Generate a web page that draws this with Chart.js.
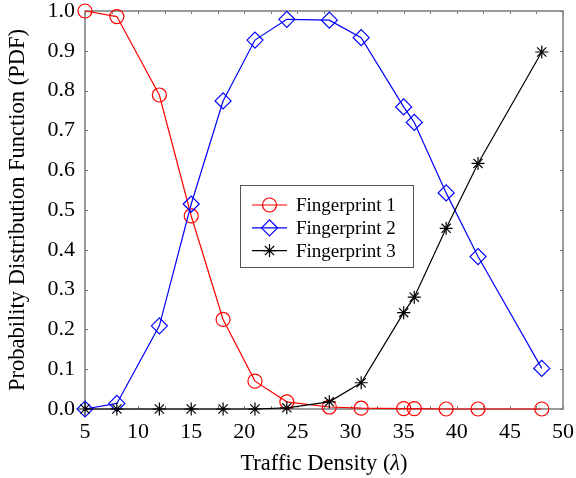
<!DOCTYPE html>
<html>
<head>
<meta charset="utf-8">
<script src="https://cdn.jsdelivr.net/npm/chart.js@4/dist/chart.umd.min.js"></script>
<style>
    html, body { margin: 0; padding: 0; background: #fff; }
    #wrap { width: 576px; height: 478px; }
</style>
</head>
<body>
<div id="wrap"><canvas id="myChart" width="576" height="478"></canvas></div>
<script>
// traffic density samples (x) and the PDF of each fingerprint
const density = [5, 8, 12, 15, 18, 21, 24, 28, 31, 35, 36, 39, 42, 48];
const fingerprint1 = [1.0, 0.986, 0.789, 0.485, 0.225, 0.070, 0.018, 0.005, 0.002, 0.001, 0.001, 0.0, 0.0, 0.0];
const fingerprint2 = [0.0, 0.014, 0.209, 0.515, 0.774, 0.927, 0.979, 0.977, 0.933, 0.759, 0.720, 0.543, 0.383, 0.102];
const fingerprint3 = [0.0, 0.0, 0.0, 0.0, 0.0, 0.0, 0.003, 0.018, 0.066, 0.242, 0.281, 0.454, 0.617, 0.897];

const seriesNames = ["Fingerprint 1", "Fingerprint 2", "Fingerprint 3"];
const xTicks = [5, 10, 15, 20, 25, 30, 35, 40, 45, 50];
const yTicks = [0, 0.1, 0.2, 0.3, 0.4, 0.5, 0.6, 0.7, 0.8, 0.9, 1.0];

const FONT = "'Liberation Serif', 'Times New Roman', serif";
const FRAME = "#7a7a7a";
const TITLE_SIZE = 22.5;

function toPoints(ys) {
    return density.map((x, i) => ({ x: x, y: ys[i] }));
}

const datasets = [
    { label: seriesNames[0], data: toPoints(fingerprint1), borderColor: "#ff0000", pointStyle: "circle", pointRadius: 7, order: 2 },
    { label: seriesNames[1], data: toPoints(fingerprint2), borderColor: "#0000ff", pointStyle: "rectRot", pointRadius: 8, order: 1 },
    { label: seriesNames[2], data: toPoints(fingerprint3), borderColor: "#000000", pointStyle: "star", pointRadius: 6.5, order: 0 }
].map(ds => Object.assign(ds, {
    backgroundColor: "rgba(0,0,0,0)",
    pointBackgroundColor: "rgba(0,0,0,0)",
    pointBorderColor: ds.borderColor,
    borderWidth: 1.2,
    pointBorderWidth: 1.2,
    tension: 0,
    clip: false
}));

// box, inward tick marks, axis titles and legend
const framePlugin = {
    id: "frame",
    beforeDatasetsDraw(chart) {
        const { ctx, chartArea: a, scales } = chart;
        ctx.save();
        ctx.strokeStyle = FRAME;
        ctx.lineWidth = 1;
        ctx.beginPath();
        for (let v = 5; v <= 50; v += 2.5) {
            const px = Math.round(scales.x.getPixelForValue(v)) + 0.5;
            ctx.moveTo(px, a.bottom); ctx.lineTo(px, a.bottom - 3);
            ctx.moveTo(px, a.top); ctx.lineTo(px, a.top + 3);
        }
        yTicks.forEach(v => {
            const py = Math.round(scales.y.getPixelForValue(v)) + 0.5;
            ctx.moveTo(a.left, py); ctx.lineTo(a.left + 3, py);
            ctx.moveTo(a.right, py); ctx.lineTo(a.right - 3, py);
        });
        ctx.stroke();
        ctx.lineWidth = 1.5;
        ctx.strokeRect(a.left, a.top, a.right - a.left, a.bottom - a.top);
        ctx.restore();
    },
    afterDraw(chart) {
        const { ctx, chartArea: a } = chart;
        ctx.save();
        ctx.fillStyle = "#000";
        ctx.textBaseline = "alphabetic";

        // x axis title with italic lambda
        const plain = TITLE_SIZE + "px " + FONT;
        const parts = [["Traffic Density (", plain], ["\u03bb", "italic " + plain], [")", plain]];
        let total = 0;
        parts.forEach(p => { ctx.font = p[1]; total += ctx.measureText(p[0]).width; });
        let x = (a.left + a.right) / 2 - total / 2;
        parts.forEach(p => {
            ctx.font = p[1];
            ctx.fillText(p[0], x, 470);
            x += ctx.measureText(p[0]).width;
        });

        // y axis title
        ctx.font = plain;
        ctx.translate(24, (a.top + a.bottom) / 2);
        ctx.rotate(-Math.PI / 2);
        ctx.textAlign = "center";
        ctx.fillText("Probability Distribution Function (PDF)", 0, 0);
        ctx.restore();

        // legend box
        const lx = 240, ly = 185, lw = 173, lh = 82;
        ctx.save();
        ctx.fillStyle = "#fff";
        ctx.fillRect(lx, ly, lw, lh);
        ctx.strokeStyle = "#555";
        ctx.lineWidth = 1;
        ctx.strokeRect(lx + 0.5, ly + 0.5, lw, lh);
        chart.data.datasets.forEach((ds, i) => {
            const rowY = ly + 20 + i * 22.8;
            ctx.strokeStyle = ds.borderColor;
            ctx.lineWidth = 1.2;
            ctx.beginPath();
            ctx.moveTo(lx + 12, rowY);
            ctx.lineTo(lx + 47, rowY);
            ctx.stroke();
            ctx.fillStyle = "rgba(0,0,0,0)";
            Chart.helpers.drawPoint(ctx, {
                pointStyle: ds.pointStyle,
                radius: ds.pointRadius,
                borderWidth: 1.2,
                rotation: 0
            }, lx + 29.5, rowY);
            ctx.fillStyle = "#000";
            ctx.font = "19px " + FONT;
            ctx.textBaseline = "middle";
            ctx.textAlign = "left";
            ctx.fillText(ds.label, lx + 56, rowY + 1);
        });
        ctx.restore();
    }
};

const ctx = document.getElementById("myChart").getContext("2d");
new Chart(ctx, {
    type: "line",
    data: { datasets: datasets },
    options: {
        responsive: false,
        animation: false,
        layout: { padding: { top: 11, right: 13, left: 0, bottom: 0 } },
        plugins: {
            legend: { display: false },
            tooltip: { enabled: false }
        },
        scales: {
            x: {
                type: "linear",
                min: 5,
                max: 50,
                grid: { display: false, drawTicks: false },
                border: { display: false },
                afterBuildTicks: scale => { scale.ticks = xTicks.map(v => ({ value: v })); },
                ticks: {
                    color: "#000",
                    padding: 10,
                    maxRotation: 0,
                    font: { family: FONT, size: 22 }
                },
                afterFit: scale => { scale.height = 69; scale.paddingLeft = 0; scale.paddingRight = 0; }
            },
            y: {
                type: "linear",
                min: 0,
                max: 1,
                grid: { display: false, drawTicks: false },
                border: { display: false },
                afterBuildTicks: scale => { scale.ticks = yTicks.map(v => ({ value: v })); },
                ticks: {
                    color: "#000",
                    padding: 10,
                    font: { family: FONT, size: 22 },
                    callback: v => Number(v).toFixed(1)
                },
                afterFit: scale => { scale.width = 85; scale.paddingTop = 0; scale.paddingBottom = 0; }
            }
        }
    },
    plugins: [framePlugin]
});
</script>
</body>
</html>
